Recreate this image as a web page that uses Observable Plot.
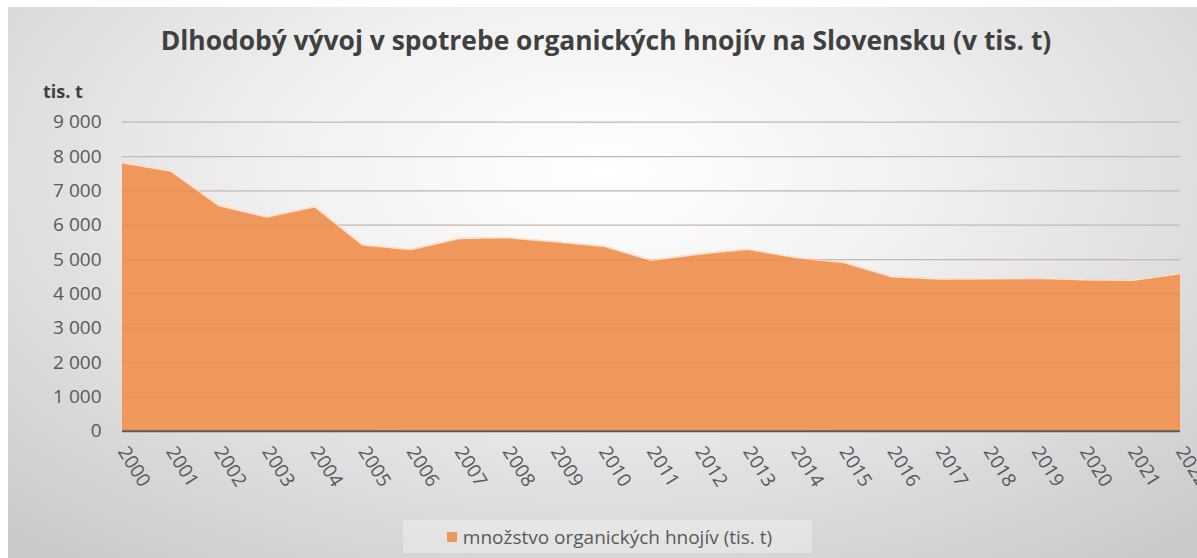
<!DOCTYPE html>
<html>
<head>
<meta charset="utf-8">
<script src="https://cdn.jsdelivr.net/npm/d3@7"></script>
<script src="https://cdn.jsdelivr.net/npm/@observablehq/plot@0.6"></script>
<style>
  html, body { margin: 0; padding: 0; background: #ffffff; }
  #frame {
    position: absolute; left: 8px; top: 7px; width: 1189px; height: 551px;
    background: radial-gradient(ellipse 75% 90% at 50% 30%, #ffffff 0%, #f1f1f1 35%, #dcdcdc 70%, #c9c9c9 100%);
    overflow: hidden;
  }
  #title {
    position: absolute; left: 0; top: 15px; width: 1196px; text-align: center;
    font-family: "Open Sans", sans-serif; font-weight: bold; font-size: 26.4px; color: #404040;
    white-space: nowrap;
  }
  #unit {
    position: absolute; left: 35px; top: 72px;
    font-family: "Open Sans", sans-serif; font-weight: bold; font-size: 18px; color: #404040;
  }
  #chart { position: absolute; left: -8px; top: -7px; }
  #legend {
    position: absolute; left: 395px; top: 513px; width: 409px; height: 33px;
    background: rgba(255,255,255,0.3);
    font-family: "Open Sans", sans-serif; font-size: 19px; color: #595959;
    display: flex; align-items: center; justify-content: center;
  }
  #legend .sw { width: 10px; height: 10px; background: #f0985c; margin-right: 6px; margin-left: 4px; }
</style>
</head>
<body>
<div id="frame">
  <div id="title">Dlhodobý vývoj v spotrebe organických hnojív na Slovensku (v tis. t)</div>
  <div id="unit">tis. t</div>
  <div id="chart"></div>
  <div id="legend"><span class="sw"></span><span>množstvo organických hnojív (tis. t)</span></div>
</div>
<script>
const years = [2000,2001,2002,2003,2004,2005,2006,2007,2008,2009,2010,2011,2012,2013,2014,2015,2016,2017,2018,2019,2020,2021,2022];
const values = [7815,7580,6575,6235,6535,5420,5290,5610,5640,5515,5390,4980,5160,5300,5060,4910,4495,4430,4440,4455,4410,4400,4595];
const yTicks = [0,1000,2000,3000,4000,5000,6000,7000,8000,9000];

const data = years.map((y, i) => ({year: y, value: values[i]}));
const fmt = d3.formatLocale({thousands: " ", grouping: [3], decimal: ","}).format(",d");

const plot = Plot.plot({
  width: 1197,
  height: 520,
  marginLeft: 122,
  marginRight: 17,
  marginTop: 121.7,
  marginBottom: 89.3,
  style: {background: "transparent", fontFamily: "Open Sans, sans-serif", fontSize: "19px", color: "#595959"},
  x: {type: "linear", domain: [2000, 2022], ticks: years, tickFormat: d => String(d), tickSize: 0, tickRotate: 58, tickPadding: 17, label: null},
  y: {domain: [0, 9000], ticks: yTicks, tickFormat: fmt, tickSize: 0, tickPadding: 21, label: null},
  marks: [
    Plot.ruleY(yTicks.filter(d => d > 0), {stroke: "#c8c8c8", strokeWidth: 1.3}),
    Plot.areaY(data, {x: "year", y: "value", fill: "#f0985c"}),
    Plot.line(data, {x: "year", y: "value", stroke: "#fde3cf", strokeWidth: 1.5}),
    Plot.ruleY(yTicks.filter(d => d > 0), {stroke: "#c07040", strokeOpacity: 0.18, strokeWidth: 1.3}),
    Plot.ruleY([0], {stroke: "#595959", strokeWidth: 2})
  ]
});
document.getElementById("chart").appendChild(plot);
</script>
</body>
</html>
